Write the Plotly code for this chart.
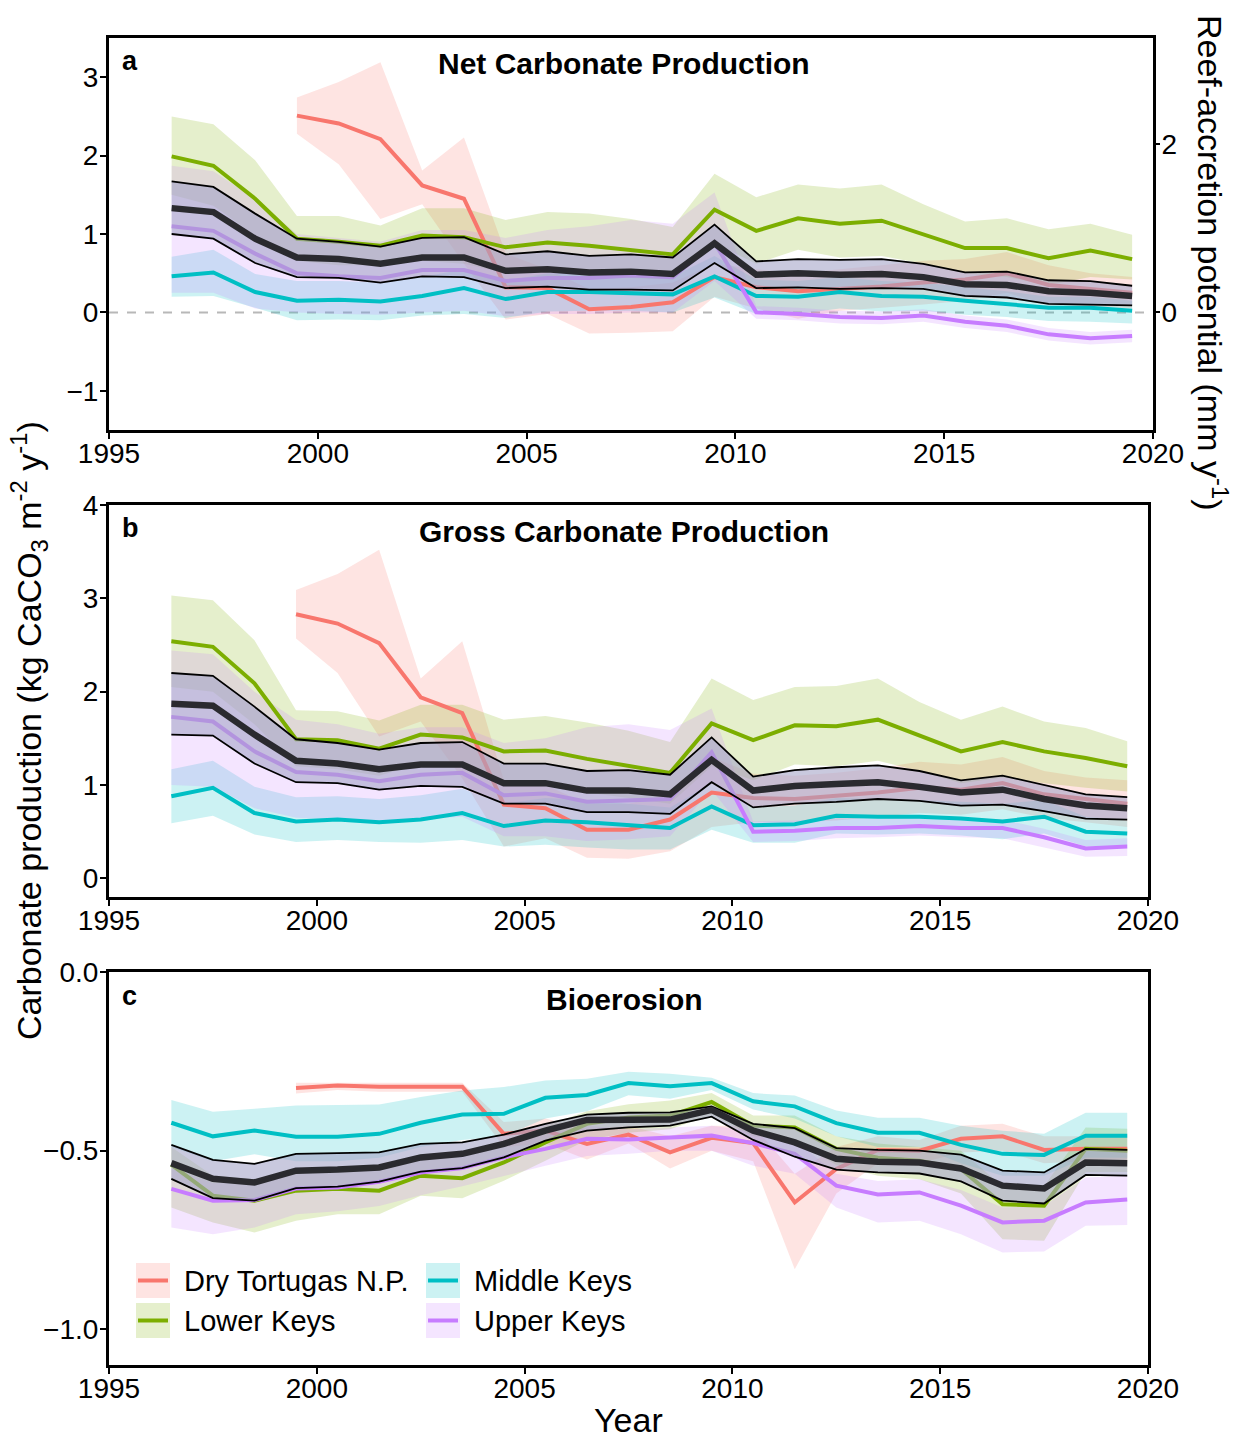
import plotly.graph_objects as go

# ---------------- data ----------------
years = [1996.5, 1997.5, 1998.5, 1999.5, 2000.5, 2001.5, 2002.5, 2003.5, 2004.5, 2005.5,
         2006.5, 2007.5, 2008.5, 2009.5, 2010.5, 2011.5, 2012.5, 2013.5, 2014.5, 2015.5,
         2016.5, 2017.5, 2018.5, 2019.5]
regions = ["Dry Tortugas N.P.", "Lower Keys", "Middle Keys", "Upper Keys"]
N = None

# Panel a: Net carbonate production
net_dt_mean = [N, N, N, 2.51, 2.41, 2.21, 1.62, 1.45, 0.32, 0.31, 0.04, 0.07, 0.13, 0.45, 0.32, 0.27, 0.30, 0.33, 0.38, 0.42, 0.50, 0.35, 0.30, 0.25]
net_dt_up = [N, N, N, 2.74, 2.94, 3.19, 1.81, 2.23, 0.75, 0.55, 0.30, 0.32, 0.38, 0.62, 0.55, 0.50, 0.55, 0.60, 0.66, 0.68, 0.77, 0.60, 0.50, 0.45]
net_dt_lo = [N, N, N, 2.28, 1.89, 1.19, 1.38, 0.62, -0.09, -0.02, -0.27, -0.26, -0.24, 0.20, 0.05, -0.08, 0.02, 0.06, 0.10, 0.15, 0.25, 0.10, 0.08, 0.05]
net_lk_mean = [1.99, 1.87, 1.45, 0.94, 0.90, 0.85, 0.98, 0.96, 0.83, 0.89, 0.85, 0.80, 0.74, 1.31, 1.04, 1.20, 1.13, 1.17, 1.00, 0.82, 0.82, 0.69, 0.79, 0.68]
net_lk_up = [2.50, 2.40, 1.94, 1.23, 1.23, 1.11, 1.33, 1.33, 1.18, 1.28, 1.26, 1.19, 1.09, 1.77, 1.47, 1.63, 1.58, 1.63, 1.38, 1.16, 1.20, 1.06, 1.13, 0.99]
net_lk_lo = [1.50, 1.36, 0.98, 0.66, 0.60, 0.60, 0.66, 0.62, 0.50, 0.52, 0.46, 0.44, 0.42, 0.88, 0.62, 0.80, 0.70, 0.72, 0.62, 0.50, 0.45, 0.35, 0.45, 0.42]
net_mk_mean = [0.46, 0.51, 0.26, 0.15, 0.16, 0.14, 0.21, 0.31, 0.17, 0.26, 0.26, 0.25, 0.23, 0.46, 0.21, 0.20, 0.26, 0.21, 0.20, 0.15, 0.11, 0.06, 0.06, 0.02]
net_mk_up = [0.71, 0.80, 0.49, 0.40, 0.40, 0.38, 0.45, 0.55, 0.40, 0.50, 0.50, 0.48, 0.46, 0.72, 0.42, 0.40, 0.45, 0.40, 0.38, 0.32, 0.27, 0.20, 0.20, 0.15]
net_mk_lo = [0.20, 0.21, 0.06, -0.10, -0.09, -0.10, -0.04, -0.02, -0.07, 0.01, 0.02, 0.02, 0.00, 0.19, -0.02, -0.02, 0.05, 0.01, 0.02, -0.03, -0.06, -0.11, -0.12, -0.14]
net_uk_mean = [1.10, 1.04, 0.75, 0.50, 0.46, 0.44, 0.54, 0.54, 0.40, 0.44, 0.44, 0.47, 0.45, 0.89, 0.00, -0.02, -0.06, -0.07, -0.04, -0.12, -0.17, -0.28, -0.33, -0.30]
net_uk_up = [1.87, 1.80, 1.45, 1.00, 0.95, 0.90, 1.05, 1.05, 0.95, 1.05, 1.10, 1.18, 1.13, 1.53, 0.08, 0.06, 0.02, 0.01, 0.04, -0.04, -0.09, -0.20, -0.25, -0.22]
net_uk_lo = [0.25, 0.25, 0.05, 0.00, -0.02, -0.03, 0.00, 0.02, -0.05, -0.02, -0.02, 0.00, 0.00, 0.40, -0.08, -0.10, -0.14, -0.15, -0.12, -0.20, -0.25, -0.36, -0.41, -0.38]
net_all_mean = [1.33, 1.28, 0.94, 0.70, 0.68, 0.62, 0.70, 0.70, 0.53, 0.55, 0.51, 0.52, 0.49, 0.88, 0.48, 0.50, 0.48, 0.49, 0.45, 0.36, 0.35, 0.27, 0.25, 0.21]
net_all_up = [1.67, 1.60, 1.26, 0.94, 0.90, 0.84, 0.95, 0.96, 0.74, 0.78, 0.72, 0.74, 0.70, 1.12, 0.65, 0.68, 0.67, 0.68, 0.62, 0.51, 0.52, 0.41, 0.40, 0.34]
net_all_lo = [1.00, 0.94, 0.63, 0.45, 0.44, 0.38, 0.46, 0.45, 0.31, 0.33, 0.29, 0.29, 0.28, 0.63, 0.31, 0.32, 0.30, 0.31, 0.30, 0.21, 0.19, 0.11, 0.10, 0.09]

# Panel b: Gross carbonate production
gro_dt_mean = [N, N, N, 2.83, 2.73, 2.52, 1.94, 1.77, 0.79, 0.75, 0.52, 0.52, 0.63, 0.92, 0.86, 0.85, 0.88, 0.92, 0.97, 0.95, 1.02, 0.90, 0.85, 0.80]
gro_dt_up = [N, N, N, 3.09, 3.26, 3.52, 2.14, 2.54, 1.05, 1.00, 0.80, 0.80, 0.90, 1.30, 1.12, 1.10, 1.13, 1.18, 1.25, 1.22, 1.30, 1.15, 1.08, 1.05]
gro_dt_lo = [N, N, N, 2.57, 2.20, 1.52, 1.68, 1.07, 0.34, 0.43, 0.22, 0.21, 0.29, 0.55, 0.60, 0.60, 0.62, 0.66, 0.70, 0.68, 0.74, 0.65, 0.60, 0.55]
gro_lk_mean = [2.54, 2.48, 2.09, 1.49, 1.48, 1.39, 1.54, 1.51, 1.36, 1.37, 1.28, 1.21, 1.13, 1.66, 1.48, 1.64, 1.63, 1.70, 1.53, 1.36, 1.46, 1.36, 1.29, 1.20]
gro_lk_up = [3.03, 2.98, 2.55, 1.80, 1.79, 1.69, 1.86, 1.86, 1.70, 1.74, 1.67, 1.58, 1.46, 2.14, 1.91, 2.05, 2.06, 2.14, 1.89, 1.70, 1.84, 1.68, 1.61, 1.47]
gro_lk_lo = [2.05, 2.00, 1.65, 1.20, 1.17, 1.10, 1.23, 1.20, 1.02, 1.02, 0.92, 0.86, 0.80, 1.20, 1.05, 1.22, 1.20, 1.26, 1.15, 1.02, 1.08, 1.02, 0.97, 0.93]
gro_mk_mean = [0.88, 0.97, 0.70, 0.61, 0.63, 0.60, 0.63, 0.70, 0.56, 0.62, 0.60, 0.57, 0.54, 0.77, 0.57, 0.58, 0.67, 0.66, 0.66, 0.64, 0.61, 0.66, 0.50, 0.48]
gro_mk_up = [1.17, 1.26, 0.98, 0.87, 0.88, 0.85, 0.89, 0.96, 0.80, 0.86, 0.84, 0.80, 0.76, 1.02, 0.76, 0.78, 0.86, 0.85, 0.84, 0.82, 0.80, 0.84, 0.66, 0.62]
gro_mk_lo = [0.59, 0.67, 0.47, 0.39, 0.41, 0.39, 0.38, 0.41, 0.34, 0.36, 0.33, 0.31, 0.31, 0.52, 0.38, 0.38, 0.48, 0.47, 0.48, 0.46, 0.42, 0.48, 0.34, 0.34]
gro_uk_mean = [1.73, 1.68, 1.36, 1.14, 1.11, 1.04, 1.11, 1.13, 0.89, 0.91, 0.82, 0.84, 0.85, 1.35, 0.50, 0.51, 0.54, 0.54, 0.56, 0.54, 0.54, 0.44, 0.32, 0.34]
gro_uk_up = [2.44, 2.40, 2.00, 1.70, 1.65, 1.55, 1.62, 1.62, 1.45, 1.50, 1.62, 1.65, 1.59, 1.82, 0.61, 0.62, 0.64, 0.64, 0.66, 0.63, 0.63, 0.53, 0.41, 0.43]
gro_uk_lo = [1.00, 0.98, 0.75, 0.65, 0.63, 0.60, 0.63, 0.66, 0.45, 0.45, 0.40, 0.42, 0.45, 0.95, 0.39, 0.40, 0.43, 0.44, 0.46, 0.44, 0.43, 0.33, 0.23, 0.24]
gro_all_mean = [1.87, 1.85, 1.54, 1.26, 1.23, 1.17, 1.22, 1.22, 1.02, 1.02, 0.94, 0.94, 0.90, 1.27, 0.94, 0.99, 1.01, 1.03, 0.98, 0.92, 0.95, 0.85, 0.78, 0.75]
gro_all_up = [2.20, 2.17, 1.84, 1.49, 1.45, 1.38, 1.45, 1.46, 1.23, 1.23, 1.15, 1.16, 1.11, 1.51, 1.09, 1.16, 1.19, 1.21, 1.15, 1.05, 1.10, 1.00, 0.90, 0.87]
gro_all_lo = [1.54, 1.53, 1.23, 1.03, 1.02, 0.95, 0.99, 0.98, 0.80, 0.80, 0.71, 0.71, 0.69, 1.03, 0.76, 0.80, 0.82, 0.85, 0.83, 0.78, 0.79, 0.72, 0.64, 0.63]

# Panel c: Bioerosion
bio_dt_mean = [N, N, N, -0.325, -0.318, -0.321, -0.321, -0.321, -0.453, -0.444, -0.481, -0.455, -0.505, -0.464, -0.479, -0.645, -0.551, -0.498, -0.500, -0.467, -0.460, -0.498, -0.495, -0.495]
bio_dt_up = [N, N, N, -0.31, -0.31, -0.31, -0.31, -0.31, -0.42, -0.41, -0.44, -0.43, -0.46, -0.43, -0.43, -0.565, -0.49, -0.46, -0.47, -0.43, -0.425, -0.46, -0.46, -0.46]
bio_dt_lo = [N, N, N, -0.34, -0.33, -0.335, -0.335, -0.335, -0.49, -0.48, -0.525, -0.48, -0.55, -0.50, -0.53, -0.832, -0.62, -0.535, -0.535, -0.505, -0.50, -0.535, -0.53, -0.53]
bio_lk_mean = [-0.539, -0.626, -0.640, -0.612, -0.607, -0.612, -0.570, -0.577, -0.533, -0.477, -0.425, -0.407, -0.402, -0.364, -0.430, -0.435, -0.495, -0.520, -0.528, -0.551, -0.650, -0.654, -0.495, -0.500]
bio_lk_up = [-0.49, -0.57, -0.58, -0.56, -0.55, -0.55, -0.51, -0.52, -0.48, -0.43, -0.39, -0.37, -0.36, -0.339, -0.402, -0.402, -0.46, -0.48, -0.49, -0.50, -0.60, -0.60, -0.435, -0.439]
bio_lk_lo = [-0.659, -0.701, -0.729, -0.696, -0.678, -0.678, -0.626, -0.633, -0.584, -0.528, -0.47, -0.45, -0.44, -0.40, -0.46, -0.47, -0.54, -0.57, -0.58, -0.62, -0.748, -0.752, -0.56, -0.56]
bio_mk_mean = [-0.422, -0.460, -0.444, -0.461, -0.461, -0.453, -0.422, -0.399, -0.397, -0.352, -0.344, -0.311, -0.320, -0.311, -0.362, -0.376, -0.423, -0.450, -0.450, -0.484, -0.509, -0.512, -0.458, -0.458]
bio_mk_up = [-0.358, -0.391, -0.383, -0.374, -0.372, -0.371, -0.350, -0.332, -0.322, -0.304, -0.299, -0.279, -0.285, -0.296, -0.339, -0.346, -0.388, -0.408, -0.408, -0.430, -0.444, -0.453, -0.394, -0.394]
bio_mk_lo = [-0.49, -0.53, -0.51, -0.53, -0.53, -0.52, -0.49, -0.47, -0.46, -0.41, -0.39, -0.345, -0.355, -0.33, -0.385, -0.41, -0.46, -0.49, -0.49, -0.535, -0.57, -0.57, -0.52, -0.52]
bio_uk_mean = [-0.607, -0.640, -0.638, -0.606, -0.603, -0.587, -0.561, -0.549, -0.519, -0.495, -0.467, -0.469, -0.463, -0.458, -0.479, -0.509, -0.598, -0.623, -0.617, -0.654, -0.701, -0.696, -0.645, -0.637]
bio_uk_up = [-0.55, -0.59, -0.59, -0.56, -0.56, -0.545, -0.52, -0.51, -0.48, -0.455, -0.43, -0.44, -0.435, -0.43, -0.445, -0.47, -0.565, -0.585, -0.58, -0.61, -0.659, -0.655, -0.575, -0.570]
bio_uk_lo = [-0.715, -0.734, -0.715, -0.678, -0.67, -0.655, -0.625, -0.60, -0.57, -0.542, -0.515, -0.509, -0.50, -0.50, -0.542, -0.565, -0.659, -0.701, -0.696, -0.734, -0.785, -0.782, -0.710, -0.708]
bio_all_mean = [-0.535, -0.579, -0.589, -0.556, -0.553, -0.547, -0.519, -0.509, -0.481, -0.444, -0.414, -0.414, -0.413, -0.386, -0.444, -0.477, -0.523, -0.531, -0.533, -0.550, -0.598, -0.606, -0.533, -0.535]
bio_all_up = [-0.484, -0.526, -0.537, -0.509, -0.507, -0.505, -0.481, -0.477, -0.455, -0.425, -0.399, -0.394, -0.393, -0.376, -0.425, -0.437, -0.493, -0.498, -0.500, -0.511, -0.556, -0.561, -0.495, -0.498]
bio_all_lo = [-0.579, -0.633, -0.640, -0.605, -0.601, -0.587, -0.559, -0.549, -0.519, -0.472, -0.444, -0.435, -0.430, -0.405, -0.470, -0.517, -0.553, -0.561, -0.564, -0.586, -0.640, -0.648, -0.568, -0.570]

panel_titles = ["Net Carbonate Production", "Gross Carbonate Production", "Bioerosion"]
panel_letters = ["a", "b", "c"]
x_ticks = [1995, 2000, 2005, 2010, 2015, 2020]

# ---------------- style ----------------
FONT = "Liberation Sans, Arial, sans-serif"
COLORS = {"Dry Tortugas N.P.": (248, 118, 109), "Lower Keys": (124, 174, 0),
          "Middle Keys": (0, 191, 196), "Upper Keys": (199, 124, 255)}
W, H = 1238, 1439
L, R, T, B = 109, 85, 38, 74
PW, PH = W - L - R, H - T - B


def px_x(p):
    return (p - L) / PW


def px_y(p):
    return (H - B - p) / PH


def rgba(c, a):
    return "rgba(%d,%d,%d,%s)" % (c[0], c[1], c[2], a)


fig = go.Figure()

panels = [
    ("x", "y", {
        "Dry Tortugas N.P.": (net_dt_mean, net_dt_lo, net_dt_up),
        "Lower Keys": (net_lk_mean, net_lk_lo, net_lk_up),
        "Middle Keys": (net_mk_mean, net_mk_lo, net_mk_up),
        "Upper Keys": (net_uk_mean, net_uk_lo, net_uk_up)},
     (net_all_mean, net_all_lo, net_all_up)),
    ("x2", "y2", {
        "Dry Tortugas N.P.": (gro_dt_mean, gro_dt_lo, gro_dt_up),
        "Lower Keys": (gro_lk_mean, gro_lk_lo, gro_lk_up),
        "Middle Keys": (gro_mk_mean, gro_mk_lo, gro_mk_up),
        "Upper Keys": (gro_uk_mean, gro_uk_lo, gro_uk_up)},
     (gro_all_mean, gro_all_lo, gro_all_up)),
    ("x3", "y3", {
        "Dry Tortugas N.P.": (bio_dt_mean, bio_dt_lo, bio_dt_up),
        "Lower Keys": (bio_lk_mean, bio_lk_lo, bio_lk_up),
        "Middle Keys": (bio_mk_mean, bio_mk_lo, bio_mk_up),
        "Upper Keys": (bio_uk_mean, bio_uk_lo, bio_uk_up)},
     (bio_all_mean, bio_all_lo, bio_all_up)),
]


def valid(xs, *cols):
    idx = [i for i in range(len(xs)) if all(c[i] is not None for c in cols)]
    return [xs[i] for i in idx], [[c[i] for i in idx] for c in cols]


for xa, ya, series, overall in panels:
    # regional ribbons
    for reg in regions:
        m, lo, up = series[reg]
        xs, (lo_v, up_v) = valid(years, lo, up)
        fig.add_trace(go.Scatter(
            x=xs + xs[::-1], y=up_v + lo_v[::-1], xaxis=xa, yaxis=ya,
            fill="toself", fillcolor=rgba(COLORS[reg], 0.2), line=dict(width=0),
            mode="lines", showlegend=False, hoverinfo="skip", name=reg + " range"))
    # regional means
    for reg in regions:
        m, lo, up = series[reg]
        xs, (m_v,) = valid(years, m)
        fig.add_trace(go.Scatter(
            x=xs, y=m_v, xaxis=xa, yaxis=ya, mode="lines",
            line=dict(color=rgba(COLORS[reg], 1), width=4),
            showlegend=False, name=reg))
    # overall
    m, lo, up = overall
    fig.add_trace(go.Scatter(
        x=years + years[::-1], y=up + lo[::-1], xaxis=xa, yaxis=ya,
        fill="toself", fillcolor="rgba(165,165,200,0.6)", line=dict(width=0),
        mode="lines", showlegend=False, hoverinfo="skip", name="All range"))
    for b in (lo, up):
        fig.add_trace(go.Scatter(x=years, y=b, xaxis=xa, yaxis=ya, mode="lines",
                                 line=dict(color="black", width=1.8),
                                 showlegend=False, hoverinfo="skip"))
    fig.add_trace(go.Scatter(x=years, y=m, xaxis=xa, yaxis=ya, mode="lines",
                             line=dict(color="#2a2a2f", width=6.5),
                             showlegend=False, name="Florida Keys"))

# invisible trace attaching the right-hand reef-accretion axis
fig.add_trace(go.Scatter(x=[], y=[], xaxis="x", yaxis="y4", mode="lines",
                         showlegend=False, hoverinfo="skip"))

axis_common = dict(showgrid=False, zeroline=False, showline=True, linecolor="black",
                   linewidth=3, mirror=True, ticks="outside", ticklen=6, tickwidth=2,
                   tickcolor="black", tickfont=dict(family=FONT, size=28, color="black"))
xax = dict(axis_common, ticklabelstandoff=-10)
yax = dict(axis_common, ticklabelstandoff=-4)

ya_dom = [px_y(430), 1.0]
yb_dom = [px_y(897), px_y(505)]
yc_dom = [0.0, px_y(972)]
xbc_dom = [0.0, px_x(1148)]

fig.update_layout(
    width=W, height=H, margin=dict(l=L, r=R, t=T, b=B),
    paper_bgcolor="white", plot_bgcolor="white", showlegend=False,
    font=dict(family=FONT, color="black"),
    xaxis=dict(xax, domain=[0, 1], anchor="y", range=[1995, 2020], tickvals=x_ticks),
    xaxis2=dict(xax, domain=xbc_dom, anchor="y2", range=[1995, 2020], tickvals=x_ticks),
    xaxis3=dict(xax, domain=xbc_dom, anchor="y3", range=[1995, 2020], tickvals=x_ticks),
    yaxis=dict(yax, domain=ya_dom, anchor="x", range=[-1.5, 3.5], dtick=1),
    yaxis2=dict(yax, domain=yb_dom, anchor="x2", range=[-0.2, 4], dtick=1),
    yaxis3=dict(yax, domain=yc_dom, anchor="x3", range=[-1.1, 0], dtick=0.5,
                tickformat=".1f"),
    yaxis4=dict(yax, overlaying="y", side="right", anchor="x", showline=False,
                mirror=False, range=[-1.5 * 0.9307, 3.5 * 0.9307], tickvals=[0, 2]),
)

# dashed zero reference line in panel a
fig.add_shape(type="line", xref="x domain", yref="y", x0=0, x1=1, y0=0, y1=0,
              line=dict(color="#b8b8b8", width=2, dash="dash"), layer="below")

# panel titles & letters
title_y = [63, 531, 999]
letter_y = [61, 528, 996]
for t, ly, ty, letter in zip(panel_titles, letter_y, title_y, panel_letters):
    fig.add_annotation(text="<b>%s</b>" % t, xref="paper", yref="paper",
                       x=px_x(624), y=px_y(ty), xanchor="center", yanchor="middle",
                       showarrow=False, font=dict(family=FONT, size=30, color="black"))
    fig.add_annotation(text="<b>%s</b>" % letter, xref="paper", yref="paper",
                       x=px_x(120), y=px_y(ly), xanchor="left", yanchor="middle",
                       showarrow=False, font=dict(family=FONT, size=27, color="black"))

# axis titles
fig.add_annotation(text="Carbonate production (kg CaCO<sub>3</sub> m<sup>-2</sup> y<sup>-1</sup>)",
                   xref="paper", yref="paper", x=px_x(29), y=px_y(731), textangle=-90,
                   xanchor="center", yanchor="middle", showarrow=False,
                   font=dict(family=FONT, size=34, color="black"))
fig.add_annotation(text="Reef-accretion potential (mm y<sup>-1</sup>)",
                   xref="paper", yref="paper", x=px_x(1212), y=px_y(262), textangle=90,
                   xanchor="center", yanchor="middle", showarrow=False,
                   font=dict(family=FONT, size=34, color="black"))
fig.add_annotation(text="Year", xref="paper", yref="paper", x=px_x(628), y=px_y(1420),
                   xanchor="center", yanchor="middle", showarrow=False,
                   font=dict(family=FONT, size=34, color="black"))

# legend (two columns, keys = pale box + coloured line)
legend_pos = {"Dry Tortugas N.P.": (136, 1263), "Lower Keys": (136, 1303),
              "Middle Keys": (426, 1263), "Upper Keys": (426, 1303)}
for reg in regions:
    kx, ky = legend_pos[reg]
    c = COLORS[reg]
    fig.add_shape(type="rect", xref="paper", yref="paper",
                  x0=px_x(kx), x1=px_x(kx + 34), y0=px_y(ky + 35), y1=px_y(ky),
                  fillcolor=rgba(c, 0.2), line=dict(width=0), layer="above")
    fig.add_shape(type="line", xref="paper", yref="paper",
                  x0=px_x(kx + 2), x1=px_x(kx + 32), y0=px_y(ky + 17.5), y1=px_y(ky + 17.5),
                  line=dict(color=rgba(c, 1), width=4), layer="above")
    fig.add_annotation(text=reg, xref="paper", yref="paper", x=px_x(kx + 46),
                       y=px_y(ky + 18), xanchor="left", yanchor="middle", showarrow=False,
                       font=dict(family=FONT, size=29, color="black"))

fig.write_html("out.html", config={"displayModeBar": False},
               post_script="document.body.style.margin='0px';document.body.style.padding='0px';")
